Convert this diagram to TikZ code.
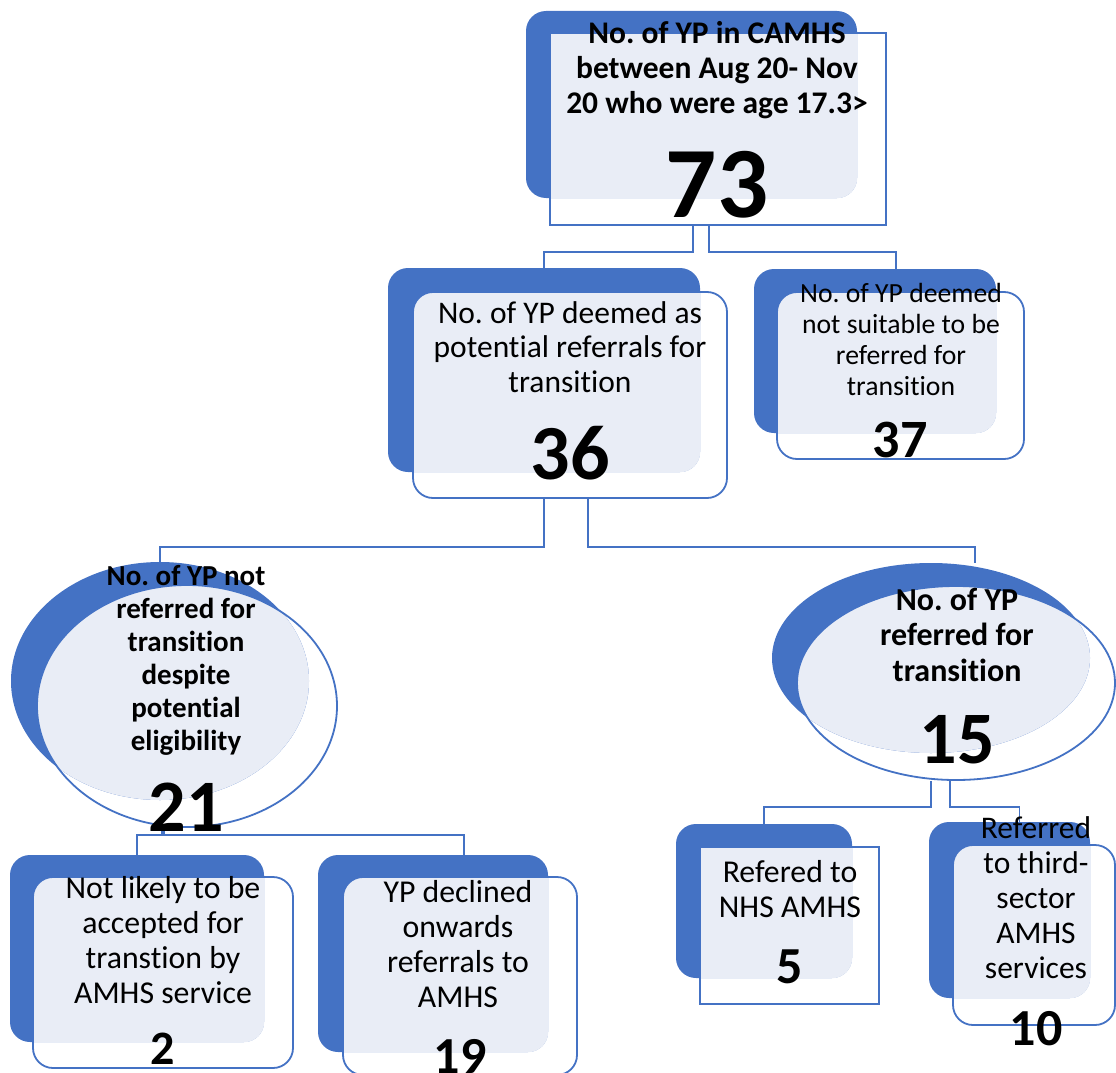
\documentclass[tikz,border=0pt]{standalone}
\usepackage{fontspec}
\setmainfont{Carlito}[Ligatures=NoCommon]
\usetikzlibrary{shapes.geometric}
\definecolor{accent}{HTML}{4472C4}
\definecolor{tint}{HTML}{E9EDF6}
\newcommand{\txtsize}[2]{\fontsize{#1}{#2}\selectfont}
\frenchspacing

\begin{document}
\begin{tikzpicture}[x=1pt,y=-1pt,
	back/.style={fill=accent,rounded corners=20pt,inner sep=0pt},
	front/.style={draw=accent,line width=1.8pt,rounded corners=20pt,inner sep=0pt},
	backoval/.style={ellipse,fill=accent,inner sep=0pt},
	frontoval/.style={ellipse,draw=accent,line width=1.8pt,inner sep=0pt},
	link/.style={draw=accent,line width=1.8pt},
	lbl/.style={align=center,inner sep=0pt},
	num/.style={inner sep=0pt,font=\bfseries\fontsize{#1}{#1}\selectfont}]
	\useasboundingbox (0,0) rectangle (1116,1073);

	% top box
	\node[back, minimum width=331pt, minimum height=187pt] (b73) at (691.5,104.5) {};
	\begin{scope}
		\clip[rounded corners=20pt] (b73.north west) rectangle (b73.south east);
		\fill[tint] (550,33) rectangle (886,225);
	\end{scope}
	\node[front, sharp corners, minimum width=336pt, minimum height=192pt] (f73) at (718,129) {};

	% second row
	\node[back, minimum width=312pt, minimum height=204pt] (b36) at (544,370) {};
	\begin{scope}
		\clip[rounded corners=20pt] (b36.north west) rectangle (b36.south east);
		\fill[tint, rounded corners=20pt] (413,292) rectangle (727,498);
	\end{scope}
	\node[front, minimum width=314pt, minimum height=206pt] (f36) at (570,395) {};

	\node[back, minimum width=242pt, minimum height=164pt] (b37) at (875,351) {};
	\begin{scope}
		\clip[rounded corners=20pt] (b37.north west) rectangle (b37.south east);
		\fill[tint, rounded corners=20pt] (777,292) rectangle (1024,459);
	\end{scope}
	\node[front, minimum width=247pt, minimum height=167pt] (f37) at (900.5,375.5) {};

	% ovals
	\node[backoval, minimum width=298pt, minimum height=238pt] (b21) at (160,681) {};
	\begin{scope}
		\clip (b21.center) ellipse [x radius=149pt, y radius=119pt];
		\fill[tint] (187,706) ellipse [x radius=150pt, y radius=121pt];
	\end{scope}
	\node[frontoval, minimum width=300pt, minimum height=242pt] (f21) at (187,706) {};

	\node[backoval, minimum width=318pt, minimum height=190pt] (b15) at (931,658) {};
	\begin{scope}
		\clip (b15.center) ellipse [x radius=159pt, y radius=95pt];
		\fill[tint] (956,683) ellipse [x radius=159pt, y radius=97pt];
	\end{scope}
	\node[frontoval, minimum width=318pt, minimum height=194pt] (f15) at (956,683) {};

	% bottom row
	\node[back, minimum width=254pt, minimum height=187pt] (b2) at (137,948.5) {};
	\begin{scope}
		\clip[rounded corners=20pt] (b2.north west) rectangle (b2.south east);
		\fill[tint, rounded corners=20pt] (33,877) rectangle (293,1068);
	\end{scope}
	\node[front, minimum width=260pt, minimum height=191pt] (f2) at (163,972.5) {};

	\node[back, minimum width=230pt, minimum height=197pt] (b19) at (433,953.5) {};
	\begin{scope}
		\clip[rounded corners=20pt] (b19.north west) rectangle (b19.south east);
		\fill[tint, rounded corners=20pt] (343,877) rectangle (577,1075);
	\end{scope}
	\node[front, minimum width=234pt, minimum height=198pt] (f19) at (460,976) {};

	\node[back, minimum width=176pt, minimum height=154pt] (b5) at (764,901) {};
	\begin{scope}
		\clip[rounded corners=20pt] (b5.north west) rectangle (b5.south east);
		\fill[tint] (700,847) rectangle (879,1004);
	\end{scope}
	\node[front, sharp corners, minimum width=179pt, minimum height=157pt] (f5) at (789.5,925.5) {};

	\node[back, minimum width=161pt, minimum height=176pt] (b10) at (1009.5,910) {};
	\begin{scope}
		\clip[rounded corners=20pt] (b10.north west) rectangle (b10.south east);
		\fill[tint, rounded corners=20pt] (953,845) rectangle (1115,1025);
	\end{scope}
	\node[front, minimum width=162pt, minimum height=180pt] (f10) at (1034,935) {};

	% connectors
	\draw[link] ([xshift=-25pt]f73.south) -- ++(0,26) -| (b36.north);
	\draw[link] ([xshift=-9pt]f73.south) -- ++(0,26) -| ([xshift=21pt]b37.north);
	\draw[link] ([xshift=-26pt]f36.south) -- ++(0,48) -| (b21.north);
	\draw[link] ([xshift=18pt]f36.south) -- ++(0,48) -| ([xshift=44pt]b15.north);
	\draw[link] ([xshift=-25pt]f21.south) -- ++(0,7) -| (b2.north);
	\draw[link] ([xshift=-23pt]f21.south) -- ++(0,7) -| ([xshift=31pt]b19.north);
	\draw[link] ([xshift=-25pt]f15.south) -- ++(0,26) -| (b5.north);
	\draw[link] ([xshift=-6pt]f15.south) -- ++(0,26) -| ([xshift=10pt]b10.north);

	% labels
	\node[lbl, font=\bfseries\txtsize{31.5}{35}] (t73) at (717,70) {No. of YP in CAMHS\\between Aug 20- Nov\\20 who were age 17.3>};
	\node[num=101] (n73) at (717,185) {73};
	\node[lbl, font=\txtsize{31.5}{34.5}] (t36) at (570,347) {No. of YP deemed as\\potential referrals for\\transition};
	\node[num=78] (n36) at (570,453) {36};
	\node[lbl, font=\txtsize{27.7}{30.7}] (t37) at (901,339.5) {No. of YP deemed\\not suitable to be\\referred for\\transition};
	\node[num=54] (n37) at (900,440) {37};
	\node[lbl, font=\bfseries\txtsize{29}{33}] (t21) at (186,660.5) {No. of YP not\\referred for\\transition\\despite\\potential\\eligibility};
	\node[num=74] (n21) at (186,807) {21};
	\node[lbl, font=\bfseries\txtsize{32}{35.5}] (t15) at (957,634.5) {No. of YP\\referred for\\transition};
	\node[num=74] (n15) at (957,740) {15};
	\node[lbl, font=\txtsize{31.8}{35}] (t2) at (163,940.5) {Not likely to be\\accepted for\\transtion by\\AMHS service};
	\node[num=48] (n2) at (163,1049) {2};
	\node[lbl, font=\txtsize{31.8}{35}] (t19) at (458,944.5) {YP declined\\onwards\\referrals to\\AMHS};
	\node[num=52] (n19) at (460,1056) {19};
	\node[lbl, font=\txtsize{31.8}{35}] (t5) at (790,889.5) {Refered to\\NHS AMHS};
	\node[num=52] (n5) at (790,967) {5};
	\node[lbl, font=\txtsize{31.5}{35}] (t10) at (1036,897.5) {Referred\\to third-\\sector\\AMHS\\services};
	\node[num=52] (n10) at (1036,1029) {10};
\end{tikzpicture}
\end{document}
